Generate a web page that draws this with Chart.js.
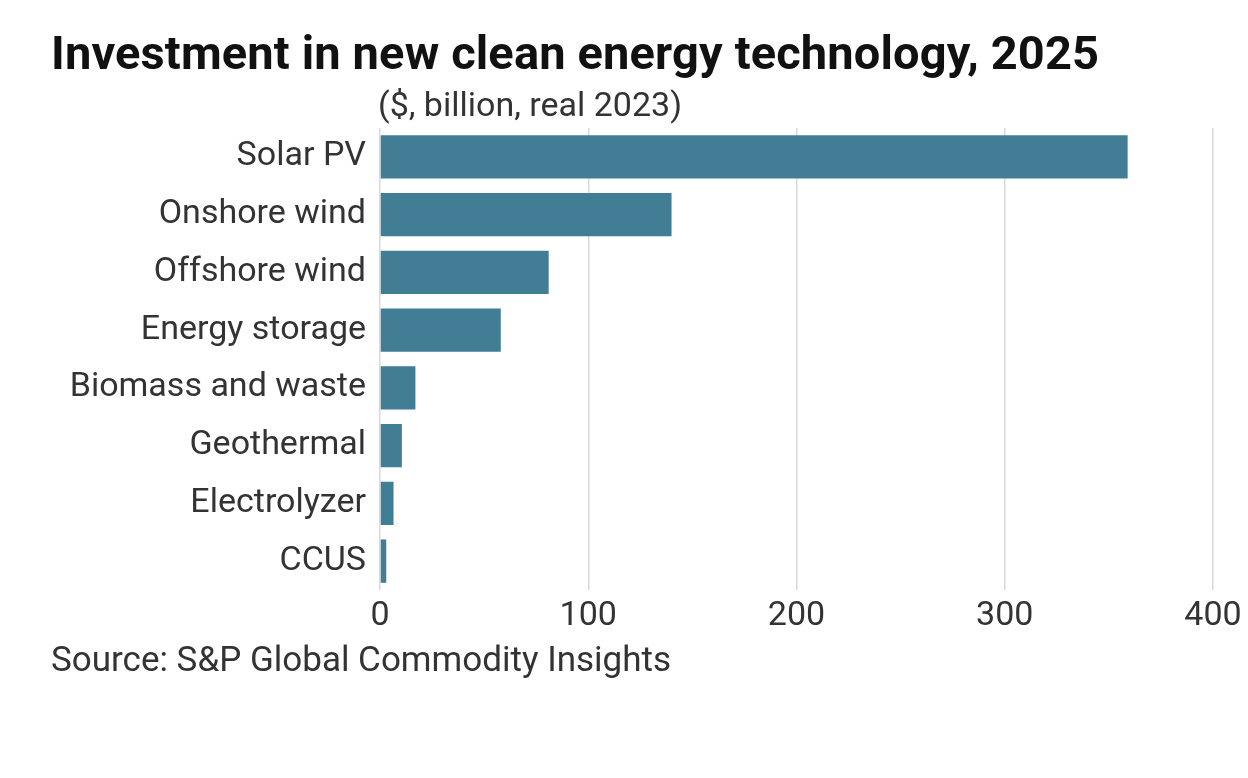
<!DOCTYPE html>
<html>
<head>
<meta charset="utf-8">
<script src="https://cdn.jsdelivr.net/npm/chart.js@4"></script>
<style>
  html, body { margin: 0; padding: 0; background: #fff; }
  #wrap { position: relative; width: 1248px; height: 778px; overflow: hidden; }
  #title { position: absolute; left: 51px; top: 25px; font-family: Roboto, sans-serif; font-weight: 700; font-size: 47px; letter-spacing: 0.15px; color: #111; white-space: nowrap; }
  #subtitle { position: absolute; left: 378px; top: 84px; font-family: Roboto, sans-serif; font-size: 34px; color: #333; white-space: nowrap; }
  #source { position: absolute; left: 51px; top: 639px; font-family: Roboto, sans-serif; font-size: 35px; color: #333; white-space: nowrap; }
  #cv { position: absolute; left: 0; top: 0; width: 1248px; height: 778px; }
</style>
</head>
<body>
<div id="wrap">
  <div id="cv"><canvas id="chart"></canvas></div>
  <div id="title">Investment in new clean energy technology, 2025</div>
  <div id="subtitle">($, billion, real 2023)</div>
  <div id="source">Source: S&amp;P Global Commodity Insights</div>
</div>
<script>
const categories = ["Solar PV", "Onshore wind", "Offshore wind", "Energy storage", "Biomass and waste", "Geothermal", "Electrolyzer", "CCUS"];
const investment = [359, 140, 81, 58, 17, 10.5, 6.5, 3];
const xTicks = [0, 100, 200, 300, 400];

new Chart(document.getElementById('chart'), {
  type: 'bar',
  data: {
    labels: categories,
    datasets: [{
      data: investment,
      backgroundColor: '#417E96',
      borderWidth: 0,
      barPercentage: 0.75,
      categoryPercentage: 1.0
    }]
  },
  options: {
    indexAxis: 'y',
    responsive: true,
    maintainAspectRatio: false,
    animation: false,
    layout: { padding: { top: 128, right: 35, bottom: 138, left: 0 } },
    plugins: { legend: { display: false }, tooltip: { enabled: false }, title: { display: false } },
    scales: {
      x: {
        min: 0, max: 400,
        afterBuildTicks: s => { s.ticks = xTicks.map(v => ({ value: v })); },
        afterFit: s => { s.height = 50; },
        grid: { color: '#d9d9d9', lineWidth: 1.5, drawTicks: false },
        border: { display: false },
        ticks: { padding: 6, color: '#333', font: { family: 'Roboto', size: 34 } }
      },
      y: {
        afterFit: s => { s.width = 380; },
        grid: { display: false },
        border: { display: false },
        ticks: { padding: 6, color: '#333', font: { family: 'Roboto', size: 34 } }
      }
    }
  }
});
</script>
</body>
</html>
